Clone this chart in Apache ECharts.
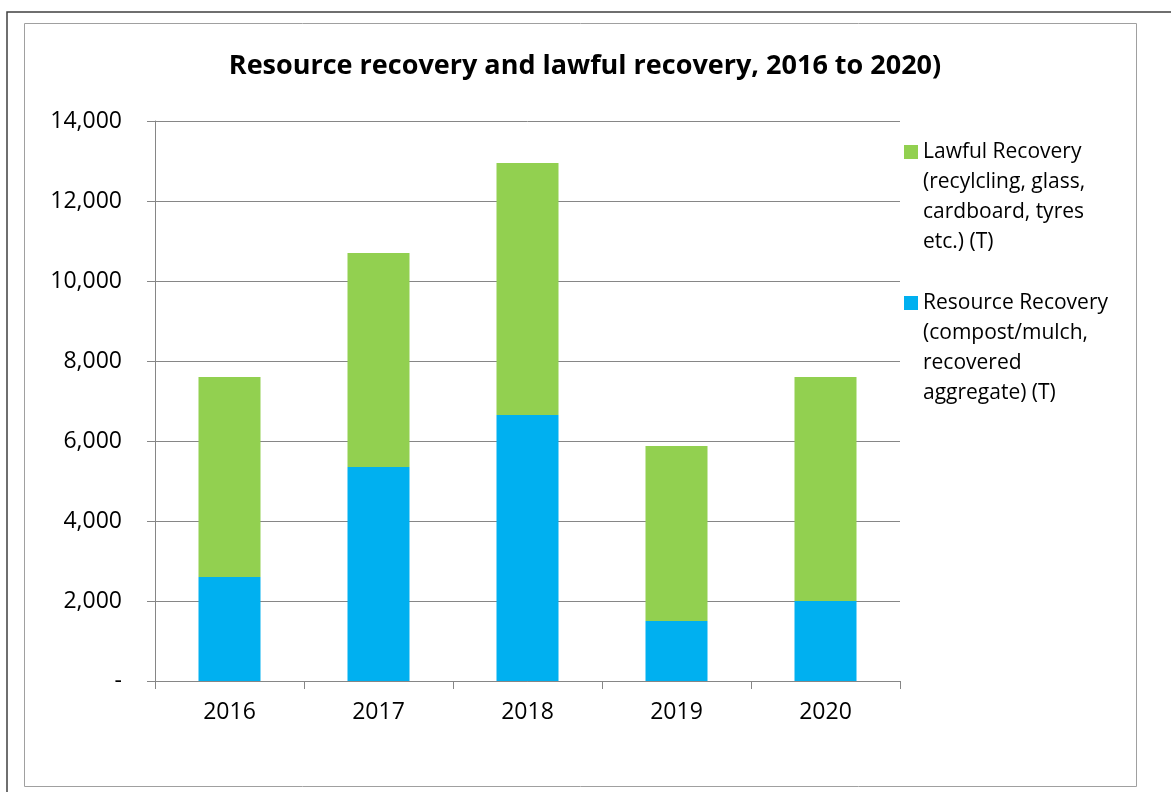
<!DOCTYPE html>
<html>
<head>
<meta charset="utf-8">
<script src="https://cdn.jsdelivr.net/npm/echarts@6/dist/echarts.min.js"></script>
<style>
html,body{margin:0;padding:0;background:#fff;}
#chart{width:1171px;height:792px;}
</style>
</head>
<body>
<div id="chart"></div>
<script>
const titleText = 'Resource recovery and lawful recovery, 2016 to 2020)';
const categories = ['2016', '2017', '2018', '2019', '2020'];
const resourceRecovery = [2600, 5350, 6650, 1500, 2000];
const lawfulRecovery = [5000, 5350, 6300, 4375, 5600];
const seriesNames = [
  'Lawful Recovery\n(recylcling, glass,\ncardboard, tyres\netc.) (T)',
  'Resource Recovery\n(compost/mulch,\nrecovered\naggregate) (T)'
];
const yTicks = { min: 0, max: 14000, interval: 2000 };

const FONT = 'Open Sans';
const chart = echarts.init(document.getElementById('chart'), null, { renderer: 'canvas' });

function legendFor(name, top) {
  return {
    show: true,
    data: [name],
    left: 904,
    top: top,
    orient: 'vertical',
    icon: 'rect',
    itemWidth: 14,
    itemHeight: 14,
    itemGap: 0,
    itemStyle: { borderWidth: 0 },
    selectedMode: false,
    padding: 0,
    // leading blank lines balance the 3 continuation lines so the first line sits beside the icon
    formatter: n => '\n\n\n' + n,
    textStyle: {
      fontFamily: FONT,
      fontSize: 21,
      color: '#000',
      lineHeight: 30
    }
  };
}

chart.setOption({
  animation: false,
  backgroundColor: '#fff',
  graphic: [
    { type: 'rect', shape: { x: 7, y: 12, width: 1170, height: 790 }, style: { fill: 'none', stroke: '#404040', lineWidth: 1.5 }, silent: true },
    { type: 'rect', shape: { x: 24.5, y: 23.5, width: 1112, height: 763 }, style: { fill: 'none', stroke: '#a0a0a0', lineWidth: 1 }, silent: true }
  ],
  title: {
    text: titleText,
    left: 580,
    textAlign: 'center',
    top: 48,
    textStyle: { fontFamily: FONT, fontWeight: 'bold', fontSize: 27, color: '#000' }
  },
  legend: [
    legendFor(seriesNames[0], 47),
    legendFor(seriesNames[1], 198)
  ],
  grid: { left: 155, right: 271, top: 121, bottom: 111, containLabel: false },
  xAxis: {
    type: 'category',
    data: categories,
    axisLine: { lineStyle: { color: '#868686', width: 1 } },
    axisTick: { show: true, length: 8, lineStyle: { color: '#868686' } },
    axisLabel: { fontFamily: FONT, fontSize: 23, color: '#000', margin: 20 }
  },
  yAxis: {
    type: 'value',
    min: yTicks.min,
    max: yTicks.max,
    interval: yTicks.interval,
    axisLine: { show: true, lineStyle: { color: '#868686', width: 1 } },
    axisTick: { show: true, inside: false, length: 8, lineStyle: { color: '#868686' } },
    splitLine: { show: true, lineStyle: { color: '#868686', width: 1 } },
    axisLabel: {
      fontFamily: FONT, fontSize: 23, color: '#000', margin: 33,
      formatter: v => v === 0 ? '-' : v.toLocaleString('en-US')
    }
  },
  series: [
    {
      name: seriesNames[1],
      type: 'bar',
      stack: 'total',
      data: resourceRecovery,
      barWidth: 62,
      itemStyle: { color: '#00B0F0' }
    },
    {
      name: seriesNames[0],
      type: 'bar',
      stack: 'total',
      data: lawfulRecovery,
      barWidth: 62,
      itemStyle: { color: '#92D050' }
    }
  ]
});
</script>
</body>
</html>
